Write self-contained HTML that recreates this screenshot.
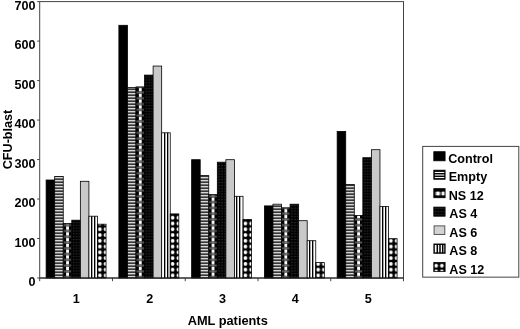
<!DOCTYPE html>
<html><head><meta charset="utf-8"><title>CFU-blast</title>
<style>
html,body{margin:0;padding:0;background:#fff;}
body{width:520px;height:329px;overflow:hidden;}
svg{display:block;filter:blur(0.4px);}
text{font-family:"Liberation Sans",Arial,sans-serif;font-weight:bold;font-size:12.6px;fill:#000;}
</style></head><body>
<svg width="520" height="329" viewBox="0 0 520 329">
<defs>
<pattern id="pE" patternUnits="userSpaceOnUse" x="0" y="0.2" width="12" height="3"><rect width="12" height="3" fill="#000"/><rect y="0.8" width="12" height="1.5" fill="#fff"/></pattern>
<pattern id="p8" patternUnits="userSpaceOnUse" x="0" y="0" width="2.85" height="10" shape-rendering="crispEdges"><rect width="2.85" height="10" fill="#fff"/><rect x="0" width="1.3" height="10" fill="#000" shape-rendering="crispEdges"/></pattern>
<pattern id="pN" patternUnits="userSpaceOnUse" x="0" y="0.6" width="5.7" height="5.77"><rect width="5.7" height="5.77" fill="#000"/><rect x="2.9" y="0" width="2.85" height="2.85" fill="#fff"/><rect x="0" y="3.3" width="5.7" height="2" fill="#555"/><rect x="2.9" y="3" width="2.85" height="2.6" fill="#777"/></pattern>
<pattern id="p4" patternUnits="userSpaceOnUse" x="0" y="0" width="2.85" height="2.85"><rect width="2.85" height="2.85" fill="#000"/><rect x="1.3" y="0.9" width="1.2" height="1.2" fill="#3a3a3a"/></pattern>
<pattern id="p12" patternUnits="userSpaceOnUse" x="0" y="0.3" width="5.7" height="5.77"><rect width="5.7" height="5.77" fill="#000"/><circle cx="2.4" cy="2.8" r="1.9" fill="#fff"/></pattern>
</defs>
<g>

<rect x="39.7" y="1.6" width="363.80" height="276.4" fill="#fff" stroke="#444" stroke-width="1"/>
<line x1="37.2" y1="278.00" x2="39.7" y2="278.00" stroke="#444" stroke-width="1"/>
<text x="35.6" y="286.20" text-anchor="end">0</text>
<line x1="37.2" y1="238.51" x2="39.7" y2="238.51" stroke="#444" stroke-width="1"/>
<text x="35.6" y="246.67" text-anchor="end">100</text>
<line x1="37.2" y1="199.03" x2="39.7" y2="199.03" stroke="#444" stroke-width="1"/>
<text x="35.6" y="207.14" text-anchor="end">200</text>
<line x1="37.2" y1="159.54" x2="39.7" y2="159.54" stroke="#444" stroke-width="1"/>
<text x="35.6" y="167.61" text-anchor="end">300</text>
<line x1="37.2" y1="120.06" x2="39.7" y2="120.06" stroke="#444" stroke-width="1"/>
<text x="35.6" y="128.08" text-anchor="end">400</text>
<line x1="37.2" y1="80.57" x2="39.7" y2="80.57" stroke="#444" stroke-width="1"/>
<text x="35.6" y="88.55" text-anchor="end">500</text>
<line x1="37.2" y1="41.09" x2="39.7" y2="41.09" stroke="#444" stroke-width="1"/>
<text x="35.6" y="49.02" text-anchor="end">600</text>
<line x1="37.2" y1="1.60" x2="39.7" y2="1.60" stroke="#444" stroke-width="1"/>
<text x="35.6" y="9.49" text-anchor="end">700</text>
<line x1="39.70" y1="278.0" x2="39.70" y2="281.2" stroke="#444" stroke-width="1"/>
<line x1="112.46" y1="278.0" x2="112.46" y2="281.2" stroke="#444" stroke-width="1"/>
<line x1="185.22" y1="278.0" x2="185.22" y2="281.2" stroke="#444" stroke-width="1"/>
<line x1="257.98" y1="278.0" x2="257.98" y2="281.2" stroke="#444" stroke-width="1"/>
<line x1="330.74" y1="278.0" x2="330.74" y2="281.2" stroke="#444" stroke-width="1"/>
<line x1="403.50" y1="278.0" x2="403.50" y2="281.2" stroke="#444" stroke-width="1"/>
<rect x="46.12" y="180.00" width="8.56" height="98.00" fill="#000" stroke="#000" stroke-width="0.8"/>
<g transform="translate(54.68,278.0)"><rect x="0" y="-101.60" width="8.56" height="101.60" fill="url(#pE)" stroke="#000" stroke-width="0.8"/></g>
<g transform="translate(63.24,278.0)"><rect x="0" y="-54.50" width="8.56" height="54.50" fill="url(#pN)" stroke="#000" stroke-width="0.8"/></g>
<g transform="translate(71.80,278.0)"><rect x="0" y="-57.80" width="8.56" height="57.80" fill="url(#p4)" stroke="#000" stroke-width="0.8"/></g>
<rect x="80.36" y="181.30" width="8.56" height="96.70" fill="#c9c9c9" stroke="#000" stroke-width="0.8"/>
<rect x="88.92" y="216.20" width="8.56" height="61.80" fill="#fff" stroke="#000" stroke-width="0.8"/>
<rect x="91" y="216.20" width="1.35" height="61.80" fill="#000"/>
<rect x="94" y="216.20" width="1.35" height="61.80" fill="#000"/>
<g transform="translate(97.48,278.0)"><rect x="0" y="-53.80" width="8.56" height="53.80" fill="url(#p12)" stroke="#000" stroke-width="0.8"/></g>
<text x="76.30" y="303" text-anchor="middle">1</text>
<rect x="118.88" y="25.30" width="8.56" height="252.70" fill="#000" stroke="#000" stroke-width="0.8"/>
<g transform="translate(127.44,278.0)"><rect x="0" y="-190.40" width="8.56" height="190.40" fill="url(#pE)" stroke="#000" stroke-width="0.8"/></g>
<g transform="translate(136.00,278.0)"><rect x="0" y="-191.10" width="8.56" height="191.10" fill="url(#pN)" stroke="#000" stroke-width="0.8"/></g>
<g transform="translate(144.56,278.0)"><rect x="0" y="-202.90" width="8.56" height="202.90" fill="url(#p4)" stroke="#000" stroke-width="0.8"/></g>
<rect x="153.12" y="66.06" width="8.56" height="211.94" fill="#c9c9c9" stroke="#000" stroke-width="0.8"/>
<rect x="161.68" y="132.80" width="8.56" height="145.20" fill="#fff" stroke="#000" stroke-width="0.8"/>
<rect x="164" y="132.80" width="1.35" height="145.20" fill="#000"/>
<rect x="167" y="132.80" width="1.35" height="145.20" fill="#000"/>
<g transform="translate(170.24,278.0)"><rect x="0" y="-64.10" width="8.56" height="64.10" fill="url(#p12)" stroke="#000" stroke-width="0.8"/></g>
<text x="149.72" y="303" text-anchor="middle">2</text>
<rect x="191.64" y="159.70" width="8.56" height="118.30" fill="#000" stroke="#000" stroke-width="0.8"/>
<g transform="translate(200.20,278.0)"><rect x="0" y="-102.40" width="8.56" height="102.40" fill="url(#pE)" stroke="#000" stroke-width="0.8"/></g>
<g transform="translate(208.76,278.0)"><rect x="0" y="-83.40" width="8.56" height="83.40" fill="url(#pN)" stroke="#000" stroke-width="0.8"/></g>
<g transform="translate(217.32,278.0)"><rect x="0" y="-115.80" width="8.56" height="115.80" fill="url(#p4)" stroke="#000" stroke-width="0.8"/></g>
<rect x="225.88" y="159.70" width="8.56" height="118.30" fill="#c9c9c9" stroke="#000" stroke-width="0.8"/>
<rect x="234.44" y="196.30" width="8.56" height="81.70" fill="#fff" stroke="#000" stroke-width="0.8"/>
<rect x="236" y="196.30" width="1.35" height="81.70" fill="#000"/>
<rect x="239" y="196.30" width="1.35" height="81.70" fill="#000"/>
<g transform="translate(243.00,278.0)"><rect x="0" y="-58.60" width="8.56" height="58.60" fill="url(#p12)" stroke="#000" stroke-width="0.8"/></g>
<text x="222.54" y="303" text-anchor="middle">3</text>
<rect x="264.40" y="205.90" width="8.56" height="72.10" fill="#000" stroke="#000" stroke-width="0.8"/>
<g transform="translate(272.96,278.0)"><rect x="0" y="-73.80" width="8.56" height="73.80" fill="url(#pE)" stroke="#000" stroke-width="0.8"/></g>
<g transform="translate(281.52,278.0)"><rect x="0" y="-70.20" width="8.56" height="70.20" fill="url(#pN)" stroke="#000" stroke-width="0.8"/></g>
<g transform="translate(290.08,278.0)"><rect x="0" y="-73.80" width="8.56" height="73.80" fill="url(#p4)" stroke="#000" stroke-width="0.8"/></g>
<rect x="298.64" y="220.70" width="8.56" height="57.30" fill="#c9c9c9" stroke="#000" stroke-width="0.8"/>
<rect x="307.20" y="240.70" width="8.56" height="37.30" fill="#fff" stroke="#000" stroke-width="0.8"/>
<rect x="309" y="240.70" width="1.35" height="37.30" fill="#000"/>
<rect x="312" y="240.70" width="1.35" height="37.30" fill="#000"/>
<g transform="translate(315.76,278.0)"><rect x="0" y="-15.40" width="8.56" height="15.40" fill="url(#p12)" stroke="#000" stroke-width="0.8"/></g>
<text x="295.36" y="303" text-anchor="middle">4</text>
<rect x="337.16" y="131.40" width="8.56" height="146.60" fill="#000" stroke="#000" stroke-width="0.8"/>
<g transform="translate(345.72,278.0)"><rect x="0" y="-93.50" width="8.56" height="93.50" fill="url(#pE)" stroke="#000" stroke-width="0.8"/></g>
<g transform="translate(354.28,278.0)"><rect x="0" y="-62.50" width="8.56" height="62.50" fill="url(#pN)" stroke="#000" stroke-width="0.8"/></g>
<g transform="translate(362.84,278.0)"><rect x="0" y="-120.30" width="8.56" height="120.30" fill="url(#p4)" stroke="#000" stroke-width="0.8"/></g>
<rect x="371.40" y="149.70" width="8.56" height="128.30" fill="#c9c9c9" stroke="#000" stroke-width="0.8"/>
<rect x="379.96" y="206.50" width="8.56" height="71.50" fill="#fff" stroke="#000" stroke-width="0.8"/>
<rect x="382" y="206.50" width="1.35" height="71.50" fill="#000"/>
<rect x="385" y="206.50" width="1.35" height="71.50" fill="#000"/>
<g transform="translate(388.52,278.0)"><rect x="0" y="-39.30" width="8.56" height="39.30" fill="url(#p12)" stroke="#000" stroke-width="0.8"/></g>
<text x="368.18" y="303" text-anchor="middle">5</text>
<line x1="39.7" y1="278.0" x2="403.5" y2="278.0" stroke="#222" stroke-width="1"/>
<text x="227.7" y="324.8" text-anchor="middle" style="font-size:12.8px">AML patients</text>
<text transform="translate(12.0,139.5) rotate(-90)" text-anchor="middle">CFU-blast</text>
<rect x="422.7" y="146.4" width="96.1" height="130.75" fill="#fff" stroke="#444" stroke-width="1"/>
<rect x="433.8" y="151.70" width="11.3" height="9.1" fill="#000" stroke="#000" stroke-width="0.8"/>
<text x="448.2" y="162.90">Control</text>
<g transform="translate(433.8,170.17)"><rect x="0" y="0" width="11.3" height="9.1" fill="#000" stroke="#000" stroke-width="0.8"/><rect x="1" y="1.73" width="9.5" height="1.1" fill="#fff"/><rect x="1" y="4.28" width="9.5" height="1.1" fill="#fff"/><rect x="1" y="6.83" width="9.5" height="1.1" fill="#fff"/></g>
<text x="448.7" y="181.37">Empty</text>
<g transform="translate(433.8,188.64)"><rect x="0" y="0" width="11.3" height="9.1" fill="#000" stroke="#000" stroke-width="0.8"/><rect x="1" y="3.2" width="9.6" height="3.4" fill="#666"/><rect x="2.6" y="3" width="3.1" height="3.7" fill="#fff"/><rect x="8.1" y="3" width="2.6" height="3.7" fill="#eee"/></g>
<text x="448.7" y="199.84">NS 12</text>
<g transform="translate(433.8,207.11)"><rect x="0" y="0" width="11.3" height="9.1" fill="url(#p4)" stroke="#000" stroke-width="0.8"/></g>
<text x="449.3" y="218.31">AS 4</text>
<rect x="434.1" y="225.88" width="10.7" height="8.6" fill="#d2d2d2" stroke="#555" stroke-width="1"/>
<text x="449.3" y="236.78">AS 6</text>
<g transform="translate(433.8,244.05)"><rect x="0.3" y="0.2" width="10.8" height="8.8" fill="#fff" stroke="#000" stroke-width="1.4"/><rect x="2.75" y="0" width="1.5" height="9.1" fill="#000"/><rect x="5.45" y="0" width="1.5" height="9.1" fill="#000"/><rect x="8.15" y="0" width="1.5" height="9.1" fill="#000"/></g>
<text x="449.3" y="255.25">AS 8</text>
<g transform="translate(433.8,262.52)"><rect x="0" y="0" width="11.3" height="9.1" fill="url(#p12)" stroke="#000" stroke-width="0.8"/></g>
<text x="449.3" y="273.72">AS 12</text>
</g>
</svg>
</body></html>
